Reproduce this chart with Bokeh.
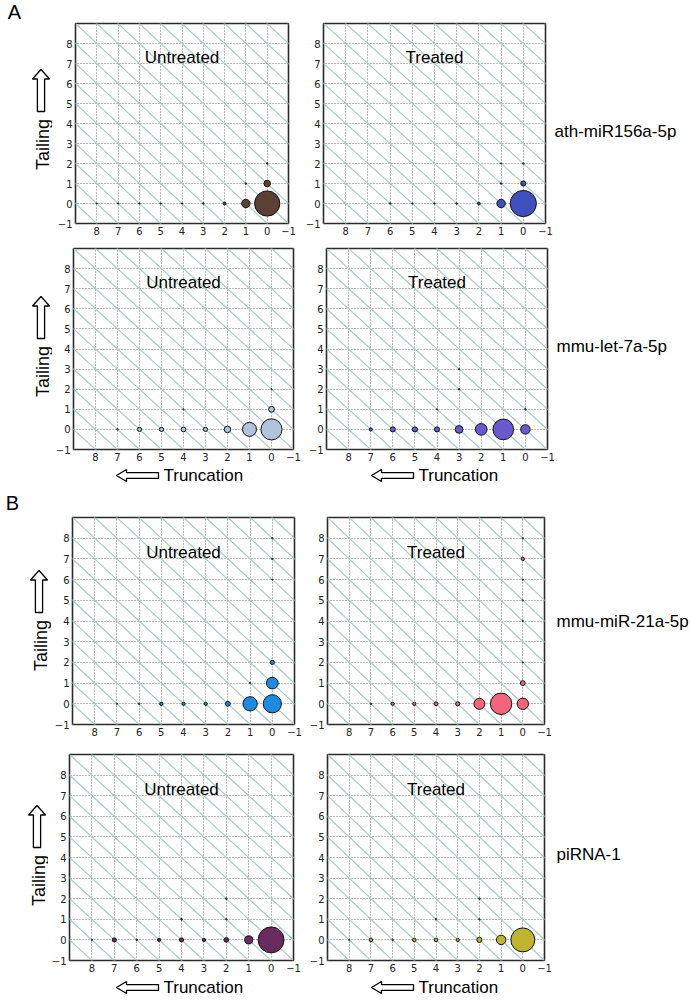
import math
from bokeh.plotting import figure
from bokeh.layouts import column, row
from bokeh.models import FixedTicker, Label, ColumnDataSource, Range1d
from bokeh.core.properties import value
from bokeh.embed import file_html
from bokeh.resources import INLINE

# ---------------- data ----------------
ticks = [-1, 0, 1, 2, 3, 4, 5, 6, 7, 8]
tick_label_overrides = {-1: "\u22121"}

rna_names = ["ath-miR156a-5p", "mmu-let-7a-5p", "mmu-miR-21a-5p", "piRNA-1"]
conditions = ["Untreated", "Treated"]
section_letters = ["A", "B"]
axis_x_label = "Truncation"
axis_y_label = "Tailing"

# truncation (x), tailing (y), percent of reads (bubble area)
ath_untreated_trunc = [0, 1, 0, 2, 3, 4, 5, 6, 7, 8, 1, 0]
ath_untreated_tail = [0, 0, 1, 0, 0, 0, 0, 0, 0, 0, 1, 2]
ath_untreated_pct = [84.5, 9.5, 5.6, 1.2, 0.3, 0.2, 0.2, 0.2, 0.2, 0.15, 0.3, 0.3]

ath_treated_trunc = [0, 1, 0, 2, 3, 4, 5, 6, 1, 1, 0]
ath_treated_tail = [0, 0, 1, 0, 0, 0, 0, 0, 1, 2, 2]
ath_treated_pct = [91.0, 9.5, 3.5, 1.0, 0.3, 0.2, 0.2, 0.3, 0.3, 0.2, 0.3]

let7_untreated_trunc = [0, 1, 2, 3, 4, 5, 6, 7, 0, 4, 0]
let7_untreated_tail = [0, 0, 0, 0, 0, 0, 0, 0, 1, 1, 2]
let7_untreated_pct = [58.9, 25.6, 5.6, 2.3, 3.1, 2.3, 2.3, 0.3, 4.5, 0.2, 0.2]

let7_treated_trunc = [1, 2, 0, 3, 4, 5, 6, 7, 0, 4, 3, 3]
let7_treated_tail = [0, 0, 0, 0, 0, 0, 0, 0, 1, 1, 2, 3]
let7_treated_pct = [56.7, 18.0, 11.8, 8.0, 3.5, 3.5, 3.5, 1.4, 0.3, 0.2, 0.3, 0.2]

mir21_untreated_trunc = [0, 1, 0, 2, 3, 4, 5, 6, 7, 0, 1, 0, 0, 0]
mir21_untreated_tail = [0, 0, 1, 0, 0, 0, 0, 0, 0, 2, 1, 6, 7, 8]
mir21_untreated_pct = [43.7, 27.0, 18.0, 3.1, 1.4, 1.4, 1.4, 0.3, 0.2, 2.3, 0.2, 0.2, 0.3, 0.3]

mir21_treated_trunc = [1, 0, 2, 0, 3, 4, 5, 6, 7, 0, 0, 0, 0, 0, 0]
mir21_treated_tail = [0, 0, 0, 1, 0, 0, 0, 0, 0, 2, 4, 5, 6, 7, 8]
mir21_treated_pct = [60.5, 17.1, 16.0, 3.1, 2.3, 2.0, 1.4, 1.4, 0.3, 0.2, 0.2, 0.2, 0.2, 1.4, 0.3]

pirna_untreated_trunc = [0, 1, 2, 3, 4, 5, 6, 7, 8, 4, 2, 2]
pirna_untreated_tail = [0, 0, 0, 0, 0, 0, 0, 0, 0, 1, 1, 2]
pirna_untreated_pct = [89.0, 8.6, 2.8, 1.4, 2.3, 1.4, 0.3, 2.3, 0.2, 0.4, 0.3, 0.3]

pirna_treated_trunc = [0, 1, 2, 3, 4, 5, 6, 7, 8, 4, 2, 2]
pirna_treated_tail = [0, 0, 0, 0, 0, 0, 0, 0, 0, 1, 1, 2]
pirna_treated_pct = [76.0, 11.8, 3.5, 1.4, 1.7, 1.7, 0.3, 1.7, 0.2, 0.3, 0.3, 0.3]

panel_data = [
    [(ath_untreated_trunc, ath_untreated_tail, ath_untreated_pct),
     (ath_treated_trunc, ath_treated_tail, ath_treated_pct)],
    [(let7_untreated_trunc, let7_untreated_tail, let7_untreated_pct),
     (let7_treated_trunc, let7_treated_tail, let7_treated_pct)],
    [(mir21_untreated_trunc, mir21_untreated_tail, mir21_untreated_pct),
     (mir21_treated_trunc, mir21_treated_tail, mir21_treated_pct)],
    [(pirna_untreated_trunc, pirna_untreated_tail, pirna_untreated_pct),
     (pirna_treated_trunc, pirna_treated_tail, pirna_treated_pct)],
]

# ---------------- styles ----------------
panel_colors = [
    ["#5b4034", "#3f4fbd"],
    ["#b0c4de", "#6a5acd"],
    ["#1c8ce3", "#f5647a"],
    ["#6a2c5e", "#bdb530"],
]
SIZE_K = 2.75
LABEL_FONT = "Liberation Sans"
TICK_FONT = "DejaVu Sans"
DIAG_COLOR = "#a9cbc6"
PAGE_W = 690

# layout in page pixels
ROWS = [
    dict(y0=22, top=23, bottom=223, y1=243, L=(75, 288), R=(323, 545), a=52, S=301, b=553,
         tail=(42, 144), name_y=131),
    dict(y0=243, top=248, bottom=449, y1=466, L=(72, 292), R=(325, 546), a=52, S=303, b=554,
         tail=(42, 371), name_y=346),
    dict(y0=514, top=517, bottom=724, y1=744, L=(69, 291), R=(324, 541), a=51, S=302, b=549,
         tail=(40, 645), name_y=621),
    dict(y0=744, top=754, bottom=960, y1=977, L=(66, 290), R=(324, 541), a=48, S=302, b=549,
         tail=(38, 880), name_y=854),
]
# full-width strips placed before a row index (text anchors in page pixels)
STRIPS_BEFORE = {
    0: dict(y0=0, y1=22, trunc=[], letter=(0, 14, 11)),
    2: dict(y0=466, y1=514, trunc=[(163, 475), (418, 475)], letter=(1, 12, 502)),
}
STRIP_END = dict(y0=977, y1=998, trunc=[(163, 987), (418, 987)], letter=None)


def strip(x0, x1, y0, y1, top=None, bottom=None):
    bt = 0 if top is None else top - y0
    bb = 0 if bottom is None else y1 - bottom
    ytop = y0 if top is None else top
    ybot = y1 if bottom is None else bottom
    p = figure(width=x1 - x0, height=y1 - y0,
               x_range=Range1d(x0, x1), y_range=Range1d(-ybot, -ytop),
               min_border=0, min_border_left=0, min_border_right=0,
               min_border_top=bt, min_border_bottom=bb,
               x_axis_type=None, y_axis_type=None,
               output_backend="svg", toolbar_location=None, tools="", title=None)
    p.outline_line_color = None
    p.background_fill_color = "white"
    p.border_fill_color = "white"
    return p


def stext(p, X, Y, txt, size, align="center", angle=0.0):
    p.text(x=[X], y=[-Y], text=[txt], text_align=align, text_baseline="middle",
           text_font=value(LABEL_FONT), text_font_size=value(size),
           text_color="black", angle=angle)


def sarrow(p, pts):
    p.patch(x=[q[0] for q in pts], y=[-q[1] for q in pts],
            fill_color="white", line_color="black", line_width=1.3)


def full_strip(st):
    p = strip(0, PAGE_W, st["y0"], st["y1"])
    for tx, ty in st["trunc"]:
        stext(p, tx, ty, axis_x_label, "17px", align="left")
        t0 = tx - 47
        sarrow(p, [(t0, ty), (t0 + 10, ty - 6), (t0 + 10, ty - 2.8),
                   (tx - 5, ty - 2.8), (tx - 5, ty + 2.8), (t0 + 10, ty + 2.8),
                   (t0 + 10, ty + 6)])
    if st["letter"] is not None:
        li, lx, ly = st["letter"]
        stext(p, lx, ly, section_letters[li], "20px")
    return p


def make_panel(data, color, bl, fw, br, bt, fh, bb, title):
    trunc, tail, pct = data
    p = figure(frame_width=fw, frame_height=fh,
               min_border_left=bl, min_border_right=br,
               min_border_top=bt, min_border_bottom=bb,
               x_range=Range1d(9, -1), y_range=Range1d(-1, 9),
               output_backend="svg", toolbar_location=None, tools="", title=None)
    p.background_fill_color = "white"
    p.border_fill_color = "white"
    p.outline_line_color = "#2b2b2b"
    p.outline_line_width = 1.6

    for ax in (p.xaxis[0], p.yaxis[0]):
        ax.ticker = FixedTicker(ticks=ticks)
        ax.major_label_overrides = tick_label_overrides
        ax.axis_line_color = None
        ax.major_tick_in = 0
        ax.major_tick_out = 0
        ax.minor_tick_in = 0
        ax.minor_tick_out = 0
        ax.major_label_text_font = TICK_FONT
        ax.major_label_text_font_size = "10px"
        ax.major_label_text_color = "#222222"
    p.xaxis.major_label_standoff = 3
    p.yaxis.major_label_standoff = 3

    for g in (p.xgrid[0], p.ygrid[0]):
        g.ticker = FixedTicker(ticks=ticks)
        g.grid_line_color = "#7a7a7a"
        g.grid_line_dash = "1 2"
        g.grid_line_width = 1

    # guide diagonals of constant (tailing - truncation)
    offs = list(range(-10, 11))
    p.segment(x0=[-2] * len(offs), y0=[-2 + c for c in offs],
              x1=[11] * len(offs), y1=[11 + c for c in offs],
              line_color=DIAG_COLOR, line_width=1.2)

    src = ColumnDataSource(dict(trunc=trunc, tail=tail, pct=pct,
                                size=[SIZE_K * math.sqrt(v) for v in pct]))
    p.scatter(x="trunc", y="tail", size="size", source=src,
              fill_color=color, line_color="#111111", line_width=1)

    p.add_layout(Label(x=4, y=7.3, text=title, text_align="center", text_baseline="middle",
                       text_font=LABEL_FONT, text_font_size="17px", text_color="black"))
    return p


blocks = []
for ri, spec in enumerate(ROWS):
    if ri in STRIPS_BEFORE:
        blocks.append(full_strip(STRIPS_BEFORE[ri]))

    y0, y1 = spec["y0"], spec["y1"]
    top, bot = spec["top"], spec["bottom"]
    bt = top - y0
    fh = bot - top
    bb = y1 - bot
    Ll, Lr = spec["L"]
    Rl, Rr = spec["R"]
    a, S, b = spec["a"], spec["S"], spec["b"]

    left = strip(0, a, y0, y1, top, bot)
    cx, cy = spec["tail"]
    stext(left, cx, cy, axis_y_label, "18px", angle=math.pi / 2)
    ax_ = cx - 1.5
    tip = cy - 75
    sarrow(left, [(ax_, tip), (ax_ + 8.5, tip + 9.5), (ax_ + 3.6, tip + 9.5),
                  (ax_ + 3.6, tip + 42), (ax_ - 3.6, tip + 42), (ax_ - 3.6, tip + 9.5),
                  (ax_ - 8.5, tip + 9.5)])

    pl = make_panel(panel_data[ri][0], panel_colors[ri][0],
                    Ll - a, Lr - Ll, S - Lr, bt, fh, bb, conditions[0])
    pr = make_panel(panel_data[ri][1], panel_colors[ri][1],
                    Rl - S, Rr - Rl, b - Rr, bt, fh, bb, conditions[1])

    right = strip(b, PAGE_W, y0, y1, top, bot)
    stext(right, max(553, b + 1), spec["name_y"], rna_names[ri], "17px", align="left")

    blocks.append(row(left, pl, pr, right))

blocks.append(full_strip(STRIP_END))

layout = column(*blocks)
open("out.html", "w").write(file_html(layout, INLINE))
